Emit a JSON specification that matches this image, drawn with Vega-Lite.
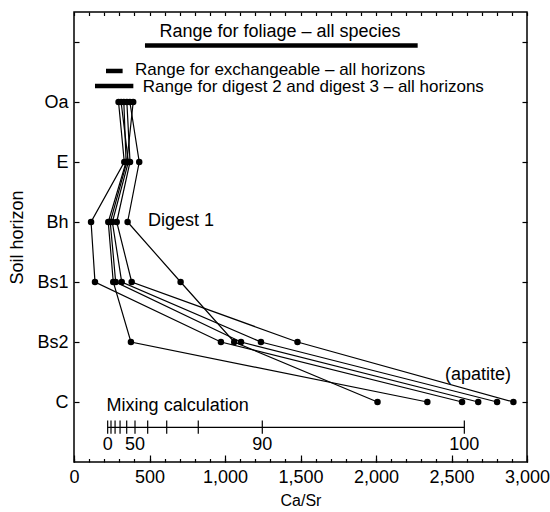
{
  "$schema": "https://vega.github.io/schema/vega-lite/v6.json",
  "width": 453,
  "height": 450,
  "autosize": "none",
  "padding": {"left": 74, "top": 12, "right": 23, "bottom": 50},
  "background": "white",
  "config": {
    "font": "Liberation Sans",
    "view": {"stroke": "black", "strokeWidth": 1.5},
    "axis": {
      "domain": false,
      "grid": false,
      "tickColor": "black",
      "tickWidth": 1.2,
      "labelColor": "black",
      "labelFont": "Liberation Sans",
      "labelFontSize": 18,
      "titleFont": "Liberation Sans",
      "titleFontSize": 18,
      "titleFontWeight": "normal",
      "titleColor": "black"
    },
    "text": {"font": "Liberation Sans", "fontSize": 18, "color": "black"}
  },
  "datasets": {
    "profiles": [
      {"profile": "A", "horizon": "Oa", "level": 6, "ca_sr": 295},
      {"profile": "A", "horizon": "E", "level": 5, "ca_sr": 333},
      {"profile": "A", "horizon": "Bh", "level": 4, "ca_sr": 113},
      {"profile": "A", "horizon": "Bs1", "level": 3, "ca_sr": 139},
      {"profile": "A", "horizon": "Bs2", "level": 2, "ca_sr": 973},
      {"profile": "A", "horizon": "C", "level": 1, "ca_sr": 2570},
      {"profile": "B", "horizon": "Oa", "level": 6, "ca_sr": 330},
      {"profile": "B", "horizon": "E", "level": 5, "ca_sr": 345},
      {"profile": "B", "horizon": "Bh", "level": 4, "ca_sr": 227},
      {"profile": "B", "horizon": "Bs1", "level": 3, "ca_sr": 260},
      {"profile": "B", "horizon": "Bs2", "level": 2, "ca_sr": 377},
      {"profile": "B", "horizon": "C", "level": 1, "ca_sr": 2340},
      {"profile": "C", "horizon": "Oa", "level": 6, "ca_sr": 392},
      {"profile": "C", "horizon": "E", "level": 5, "ca_sr": 350},
      {"profile": "C", "horizon": "Bh", "level": 4, "ca_sr": 240},
      {"profile": "C", "horizon": "Bs1", "level": 3, "ca_sr": 276},
      {"profile": "C", "horizon": "Bs2", "level": 2, "ca_sr": 1106},
      {"profile": "C", "horizon": "C", "level": 1, "ca_sr": 2677},
      {"profile": "D", "horizon": "Oa", "level": 6, "ca_sr": 312},
      {"profile": "D", "horizon": "E", "level": 5, "ca_sr": 360},
      {"profile": "D", "horizon": "Bh", "level": 4, "ca_sr": 254},
      {"profile": "D", "horizon": "Bs1", "level": 3, "ca_sr": 316},
      {"profile": "D", "horizon": "Bs2", "level": 2, "ca_sr": 1238},
      {"profile": "D", "horizon": "C", "level": 1, "ca_sr": 2802},
      {"profile": "E", "horizon": "Oa", "level": 6, "ca_sr": 350},
      {"profile": "E", "horizon": "E", "level": 5, "ca_sr": 371},
      {"profile": "E", "horizon": "Bh", "level": 4, "ca_sr": 283},
      {"profile": "E", "horizon": "Bs1", "level": 3, "ca_sr": 382},
      {"profile": "E", "horizon": "Bs2", "level": 2, "ca_sr": 1480},
      {"profile": "E", "horizon": "C", "level": 1, "ca_sr": 2910},
      {"profile": "F", "horizon": "Oa", "level": 6, "ca_sr": 370},
      {"profile": "F", "horizon": "E", "level": 5, "ca_sr": 432},
      {"profile": "F", "horizon": "Bh", "level": 4, "ca_sr": 355},
      {"profile": "F", "horizon": "Bs1", "level": 3, "ca_sr": 706},
      {"profile": "F", "horizon": "Bs2", "level": 2, "ca_sr": 1061},
      {"profile": "F", "horizon": "C", "level": 1, "ca_sr": 2010}
    ],
    "ranges": [
      {"range": "foliage", "from": 470, "to": 2276, "level": 6.94},
      {"range": "exchangeable", "from": 212, "to": 322, "level": 6.517},
      {"range": "digest 2 and digest 3", "from": 139, "to": 393, "level": 6.267}
    ],
    "labels_small": [
      {"label": "Range for exchangeable – all horizons", "x": 404, "y": 6.535},
      {"label": "Range for digest 2 and digest 3 – all horizons", "x": 455, "y": 6.25}
    ],
    "labels_left": [
      {"label": "Digest 1", "x": 490, "y": 4.02},
      {"label": "Mixing calculation", "x": 216, "y": 0.93}
    ],
    "labels_center": [
      {"label": "Range for foliage – all species", "x": 1364, "y": 7.17},
      {"label": "0", "x": 223, "y": 0.283},
      {"label": "50", "x": 404, "y": 0.283},
      {"label": "90", "x": 1247, "y": 0.283},
      {"label": "100", "x": 2585, "y": 0.283}
    ],
    "labels_right": [
      {"label": "(apatite)", "x": 2894, "y": 1.445}
    ],
    "mixing_line": [
      {"from": 223, "to": 2585, "level": 0.578}
    ],
    "mixing_ticks": [
      {"percent": 0, "ca_sr": 223},
      {"percent": 10, "ca_sr": 245},
      {"percent": 20, "ca_sr": 272},
      {"percent": 30, "ca_sr": 305},
      {"percent": 40, "ca_sr": 349},
      {"percent": 50, "ca_sr": 404},
      {"percent": 60, "ca_sr": 488},
      {"percent": 70, "ca_sr": 614},
      {"percent": 80, "ca_sr": 823},
      {"percent": 90, "ca_sr": 1247},
      {"percent": 100, "ca_sr": 2585}
    ]
  },
  "layer": [
    {
      "data": {"name": "profiles"},
      "mark": {"type": "line", "color": "black", "strokeWidth": 1.2},
      "encoding": {
        "x": {
          "field": "ca_sr", "type": "quantitative",
          "scale": {"domain": [0, 3000], "nice": false, "zero": false},
          "axis": {
            "orient": "bottom",
            "values": [0,100,200,300,400,500,600,700,800,900,1000,1100,1200,1300,1400,1500,1600,1700,1800,1900,2000,2100,2200,2300,2400,2500,2600,2700,2800,2900,3000],
            "labelExpr": "datum.value % 500 === 0 ? format(datum.value, ',') : ''",
            "labelOverlap": false,
            "labelFlush": false,
            "tickSize": -3.5,
            "labelPadding": 10,
            "title": "Ca/Sr",
            "titleFontSize": 16,
            "titlePadding": 6
          }
        },
        "y": {
          "field": "level", "type": "quantitative",
          "scale": {"domain": [0, 7.5], "nice": false, "zero": false},
          "axis": {
            "orient": "left",
            "values": [1,2,3,4,5,6,7],
            "labelExpr": "['','C','Bs2','Bs1','Bh','E','Oa',''][datum.value]",
            "tickSize": -5,
            "labelPadding": 11,
            "title": "Soil horizon",
            "titlePadding": 10
          }
        },
        "detail": {"field": "profile"},
        "order": {"field": "level", "sort": "descending"}
      }
    },
    {
      "data": {"name": "profiles"},
      "mark": {"type": "point", "filled": true, "color": "black", "size": 42, "opacity": 1},
      "encoding": {
        "x": {"field": "ca_sr", "type": "quantitative", "scale": {"domain": [0, 3000], "nice": false, "zero": false},
          "axis": {
            "orient": "bottom",
            "values": [0,500,1000,1500,2000,2500,3000],
            "labels": false,
            "tickSize": -7,
            "title": null
          }},
        "y": {"field": "level", "type": "quantitative", "scale": {"domain": [0, 7.5], "nice": false, "zero": false},
          "axis": {
            "orient": "right",
            "values": [1,2,3,4,5,6,7],
            "labels": false,
            "tickSize": -5,
            "title": null
          }}
      }
    },
    {
      "data": {"name": "profiles"},
      "mark": {"type": "point", "opacity": 0},
      "encoding": {
        "x": {"field": "ca_sr", "type": "quantitative", "scale": {"domain": [0, 3000], "nice": false, "zero": false},
          "axis": {
            "orient": "top",
            "values": [0,100,200,300,400,500,600,700,800,900,1000,1100,1200,1300,1400,1500,1600,1700,1800,1900,2000,2100,2200,2300,2400,2500,2600,2700,2800,2900,3000],
            "labels": false,
            "tickSize": -3.5,
            "title": null
          }},
        "y": {"field": "level", "type": "quantitative", "scale": {"domain": [0, 7.5], "nice": false, "zero": false}, "axis": null}
      }
    },
    {
      "data": {"name": "ranges"},
      "mark": {"type": "rule", "color": "black", "strokeWidth": 4.5},
      "encoding": {
        "x": {"field": "from", "type": "quantitative", "scale": {"domain": [0, 3000], "nice": false, "zero": false}, "axis": null},
        "x2": {"field": "to"},
        "y": {"field": "level", "type": "quantitative", "scale": {"domain": [0, 7.5], "nice": false, "zero": false}, "axis": null}
      }
    },
    {
      "data": {"name": "mixing_line"},
      "mark": {"type": "rule", "color": "black", "strokeWidth": 1.2},
      "encoding": {
        "x": {"field": "from", "type": "quantitative", "scale": {"domain": [0, 3000], "nice": false, "zero": false}, "axis": null},
        "x2": {"field": "to"},
        "y": {"field": "level", "type": "quantitative", "scale": {"domain": [0, 7.5], "nice": false, "zero": false}, "axis": null}
      }
    },
    {
      "data": {"name": "mixing_ticks"},
      "mark": {"type": "rule", "color": "black", "strokeWidth": 1.2},
      "encoding": {
        "x": {"field": "ca_sr", "type": "quantitative", "scale": {"domain": [0, 3000], "nice": false, "zero": false}, "axis": null},
        "y": {"datum": 0.47, "type": "quantitative", "scale": {"domain": [0, 7.5], "nice": false, "zero": false}, "axis": null},
        "y2": {"datum": 0.69}
      }
    },
    {
      "data": {"name": "labels_small"},
      "mark": {"type": "text", "align": "left", "baseline": "middle", "fontSize": 17},
      "encoding": {
        "x": {"field": "x", "type": "quantitative", "scale": {"domain": [0, 3000], "nice": false, "zero": false}, "axis": null},
        "y": {"field": "y", "type": "quantitative", "scale": {"domain": [0, 7.5], "nice": false, "zero": false}, "axis": null},
        "text": {"field": "label"}
      }
    },
    {
      "data": {"name": "labels_left"},
      "mark": {"type": "text", "align": "left", "baseline": "middle"},
      "encoding": {
        "x": {"field": "x", "type": "quantitative", "scale": {"domain": [0, 3000], "nice": false, "zero": false}, "axis": null},
        "y": {"field": "y", "type": "quantitative", "scale": {"domain": [0, 7.5], "nice": false, "zero": false}, "axis": null},
        "text": {"field": "label"}
      }
    },
    {
      "data": {"name": "labels_center"},
      "mark": {"type": "text", "align": "center", "baseline": "middle"},
      "encoding": {
        "x": {"field": "x", "type": "quantitative", "scale": {"domain": [0, 3000], "nice": false, "zero": false}, "axis": null},
        "y": {"field": "y", "type": "quantitative", "scale": {"domain": [0, 7.5], "nice": false, "zero": false}, "axis": null},
        "text": {"field": "label"}
      }
    },
    {
      "data": {"name": "labels_right"},
      "mark": {"type": "text", "align": "right", "baseline": "middle"},
      "encoding": {
        "x": {"field": "x", "type": "quantitative", "scale": {"domain": [0, 3000], "nice": false, "zero": false}, "axis": null},
        "y": {"field": "y", "type": "quantitative", "scale": {"domain": [0, 7.5], "nice": false, "zero": false}, "axis": null},
        "text": {"field": "label"}
      }
    }
  ],
  "resolve": {"axis": {"x": "independent", "y": "independent"}}
}
